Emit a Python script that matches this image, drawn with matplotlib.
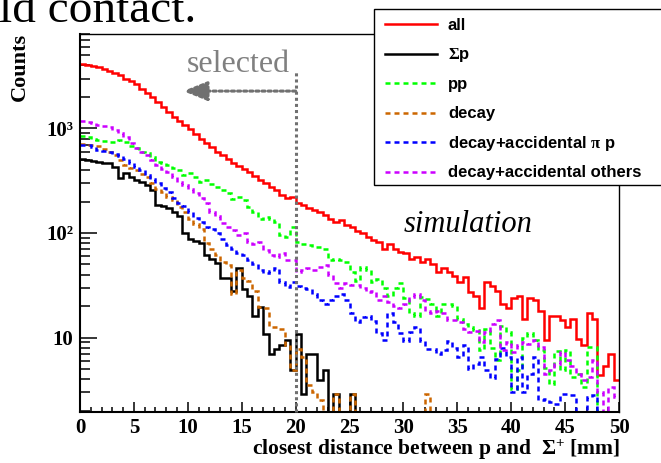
import numpy as np
import matplotlib
matplotlib.use("Agg")
import matplotlib.pyplot as plt
import matplotlib.ticker as mticker
import matplotlib.transforms as mtransforms
from matplotlib.lines import Line2D
from matplotlib.patches import Rectangle

plt.rcParams["font.family"] = "Liberation Serif"
plt.rcParams["font.weight"] = "bold"
plt.rcParams["mathtext.fontset"] = "custom"
plt.rcParams["mathtext.rm"] = "Liberation Serif"
plt.rcParams["mathtext.it"] = "Liberation Serif:italic"
plt.rcParams["mathtext.bf"] = "Liberation Serif:bold"

# 100 bins of 0.5 mm, closest distance between p and Sigma+
x_lo, x_hi, n_bins = 0.0, 50.0, 100
cut_mm = 20.0

all_counts = [
    4100, 4000, 3950, 3850, 3700, 3550, 3400, 3250, 3000, 2850,
    2650, 2400, 2200, 2000, 1800, 1620, 1450, 1300, 1180, 1070,
    980, 880, 800, 720, 660, 600, 560, 515, 470, 440,
    410, 380, 350, 320, 300, 275, 255, 232, 218, 222,
    192, 185, 172, 165, 158, 150, 136, 128, 133, 120,
    114, 104, 99, 92, 86, 82, 70, 79, 71, 66,
    64, 57, 59, 53, 56, 50, 42, 46, 42, 39,
    34, 38, 27, 25, 19, 34, 31, 28, 21, 19,
    24, 25, 15, 24, 23, 18, 9.4, 16, 16, 14.6,
    12.6, 15, 9.6, 8.4, 17, 15, 4.4, 5.4, 6.9, 3.9,
]
sigma_p = [
    505, 500, 490, 480, 470, 462, 430, 332, 371, 344,
    320, 305, 290, 260, 185, 180, 172, 160, 145, 99,
    88, 84, 80, 62, 56, 52, 37, 37, 28, 46,
    29, 25, 16, 19.6, 10.9, 7.0, 7.8, 8.4, 9.5, 4.9,
    10.9, 2.9, 6.9, 6.9, 3.9, 4.9, 0, 2.9, 0, 0,
    2.9, 0, 0, 0, 0, 0, 0, 0, 0, 0,
    0, 0, 0, 0, 0, 0, 0, 0, 0, 0,
    0, 0, 0, 0, 0, 0, 0, 0, 0, 0,
    0, 0, 0, 0, 0, 0, 0, 0, 0, 0,
    0, 0, 0, 0, 0, 0, 0, 0, 0, 0,
]
pp = [
    850, 830, 800, 780, 760, 745, 745, 770, 740, 680,
    643, 600, 576, 535, 480, 462, 446, 414, 399, 357,
    371, 340, 309, 320, 297, 276, 255, 239, 210, 222,
    206, 178, 160, 137, 143, 135, 128, 95, 92, 114,
    82, 79, 76, 74, 74, 71, 55, 57, 55, 53,
    42, 35, 47, 44, 34, 36, 29.5, 25, 30, 33,
    24, 17, 16.2, 24.5, 23.5, 21, 16.2, 21, 21, 20,
    15, 13.5, 12.5, 11.7, 7.6, 12, 7.9, 6.1, 13, 11.3,
    3.2, 4.9, 10, 11, 9.5, 7.6, 5.1, 3.6, 7.5, 4.9,
    7.6, 4.2, 4.5, 3.4, 8.1, 8.1, 0, 0, 0, 0,
]
decay = [
    710, 700, 690, 680, 640, 600, 560, 500, 450, 420,
    400, 370, 345, 300, 266, 248, 222, 206, 178, 159,
    137, 123, 110, 80, 70, 62, 53, 49, 26, 44,
    37, 35, 28, 19.6, 19, 12.6, 12.6, 12, 8.5, 4.9,
    7.8, 6.5, 3.5, 3.0, 2.5, 0, 0, 2.9, 0, 0,
    2.9, 0, 0, 0, 0, 0, 0, 0, 0, 0,
    0, 0, 0, 0, 2.9, 0, 0, 0, 0, 0,
    0, 0, 0, 0, 0, 0, 0, 0, 0, 0,
    0, 0, 0, 0, 0, 0, 0, 0, 0, 0,
    0, 0, 0, 0, 0, 0, 0, 0, 0, 0,
]
decay_pi_p = [
    690, 700, 660, 625, 610, 597, 570, 540, 505, 462,
    430, 400, 360, 330, 300, 270, 245, 215, 195, 180,
    158, 140, 128, 114, 108, 100, 88, 76, 70, 64,
    61, 55, 51, 44, 41, 43, 46, 34, 30.5, 34,
    31, 30, 29, 26, 23, 21, 23, 25, 26, 22.7,
    17, 14, 15.6, 16.2, 14.5, 11, 9.5, 17, 14, 11,
    9.3, 11.2, 12.5, 9.3, 7.8, 7.8, 7.0, 7.6, 9.2, 7.9,
    6.5, 8.4, 5.0, 5.6, 6.5, 4.9, 4.1, 6.3, 7.9, 6.5,
    3.0, 6.5, 3.0, 4.5, 6.5, 2.5, 2.6, 2.4, 2.3, 2.9,
    2.9, 2.8, 0, 0, 2.7, 2.8, 0, 0, 0, 0,
]
decay_others = [
    1180, 1160, 1120, 1080, 1060, 1030, 970, 900, 820, 730,
    650, 600, 560, 500, 450, 410, 380, 345, 310, 290,
    265, 240, 215, 195, 160, 145, 125, 115, 106, 95,
    99, 82, 79, 82, 68, 62, 59, 64, 55, 55,
    42.5, 44, 46, 44, 47, 49, 40, 33, 30, 33,
    32, 31.6, 30, 27, 28, 22.7, 25, 22, 20, 19,
    21, 24.5, 26, 22.7, 18, 17, 18, 17, 14.6, 14.6,
    14, 12.2, 11.3, 11.5, 9, 11.3, 13.6, 14.6, 7.6, 9.1,
    7.3, 8.4, 9.1, 8.7, 9.4, 8.1, 4.5, 4.9, 5.6, 7.3,
    6.1, 5.4, 4.5, 3.9, 4.2, 6.1, 3.0, 0, 3.4, 2.7,
]

labels = ["all", r"$\mathrm{\Sigma}$p", "pp", "decay",
          r"decay+accidental $\mathrm{\pi}$ p", "decay+accidental others"]
colors = ["#ff0000", "#000000", "#00ff00", "#cc6600", "#0000ff", "#cc00ff"]
dashed = (0, (2.0, 1.6))
styles = ["-", "-", dashed, dashed, dashed, dashed]
lw = 1.8

W, H = 661, 463
y_lo, y_hi = 1.94, 8000

fig = plt.figure(figsize=(W / 100, H / 100), dpi=100)
ax = fig.add_axes([80 / W, 51 / H, 539 / W, 378 / H])
ax.set_yscale("log")
ax.set_xlim(x_lo, x_hi)
ax.set_ylim(y_lo, y_hi)

edges = np.linspace(x_lo, x_hi, n_bins + 1)
series = [all_counts, sigma_p, pp, decay, decay_pi_p, decay_others]
for vals, col, ls in zip(series, colors, styles):
    v = np.asarray(vals, dtype=float)
    # empty bins sit on the lower frame edge like in ROOT
    v = np.clip(v, y_lo, None)
    ax.stairs(v, edges, baseline=None, color=col, linestyle=ls,
              linewidth=lw, zorder=2)

# axes styling
for side in ["left", "bottom"]:
    ax.spines[side].set_linewidth(1.5)
for side in ["top", "right"]:
    ax.spines[side].set_linewidth(1.0)

ax.xaxis.set_major_locator(mticker.MultipleLocator(5))
ax.xaxis.set_minor_locator(mticker.MultipleLocator(1))
ax.yaxis.set_major_locator(mticker.LogLocator(base=10, numticks=10))
ax.yaxis.set_minor_locator(mticker.LogLocator(base=10, subs=np.arange(2, 10), numticks=30))
ylabels = {10: "10", 100: "10²", 1000: "10³"}
ax.yaxis.set_major_formatter(mticker.FuncFormatter(lambda v, p: ylabels.get(int(round(v)), "")))
ax.yaxis.set_minor_formatter(mticker.NullFormatter())

ax.tick_params(which="both", direction="in", top=False, right=False, width=1.1,
               labelsize=15)
ax.tick_params(axis="y", which="major", length=12, pad=5)
ax.tick_params(axis="y", which="minor", length=7)
ax.tick_params(axis="x", which="major", length=7.5, pad=4)
ax.tick_params(axis="x", which="minor", length=3.6)

fig.text(20 / W, 1 - 33 / H, "Counts", rotation=90, ha="center", va="top", fontsize=16)
fig.text(620 / W, 1 - 455 / H, r"closest distance between p and  $\mathrm{\Sigma^{+}}$ [mm]",
         ha="right", va="baseline", fontsize=15.5)

# selection cut at 20 mm
grey = "#707070"
trans = mtransforms.blended_transform_factory(ax.transData, ax.transAxes)
ax.plot([cut_mm, cut_mm], [0.0, 0.899], transform=trans, color=grey,
        linewidth=2.2, linestyle=(0, (1, 1)), zorder=4, clip_on=False)
ax.annotate("", xy=(9.56, 0.849), xytext=(cut_mm, 0.849), xycoords=trans, textcoords=trans,
            arrowprops=dict(arrowstyle="-|>,head_length=0.75,head_width=0.3",
                            mutation_scale=20, color=grey, linewidth=2.2,
                            linestyle=(0, (1, 1)), shrinkA=0, shrinkB=0),
            zorder=4)
fig.text(187 / W, 1 - 72 / H, "selected", color="#808080", fontsize=23,
         fontweight="normal", ha="left", va="baseline")

fig.text(404 / W, 1 - 232 / H, "simulation", fontsize=22, fontweight="normal",
         fontstyle="italic", ha="left", va="baseline")

fig.text(-1 / W, 1 - 22 / H, "ld contact.", fontsize=34, fontweight="normal",
         ha="left", va="baseline")

# legend box in the upper right corner
fig.add_artist(Rectangle((374 / W, 1 - 185 / H), 320 / W, 176 / H, transform=fig.transFigure,
                         facecolor="white", edgecolor="black", linewidth=1.0, zorder=10))
for i, (lab, col, ls) in enumerate(zip(labels, colors, styles)):
    yc = 24 + 29.6 * i
    fig.add_artist(Line2D([385 / W, 437 / W], [1 - yc / H, 1 - yc / H], transform=fig.transFigure,
                          color=col, linestyle=ls, linewidth=lw, zorder=11))
    fig.text(448 / W, 1 - (yc + 5.5) / H, lab, fontsize=12, family="Liberation Sans",
             fontweight="bold", ha="left", va="baseline", zorder=11)

fig.savefig("out.png", dpi=100)
